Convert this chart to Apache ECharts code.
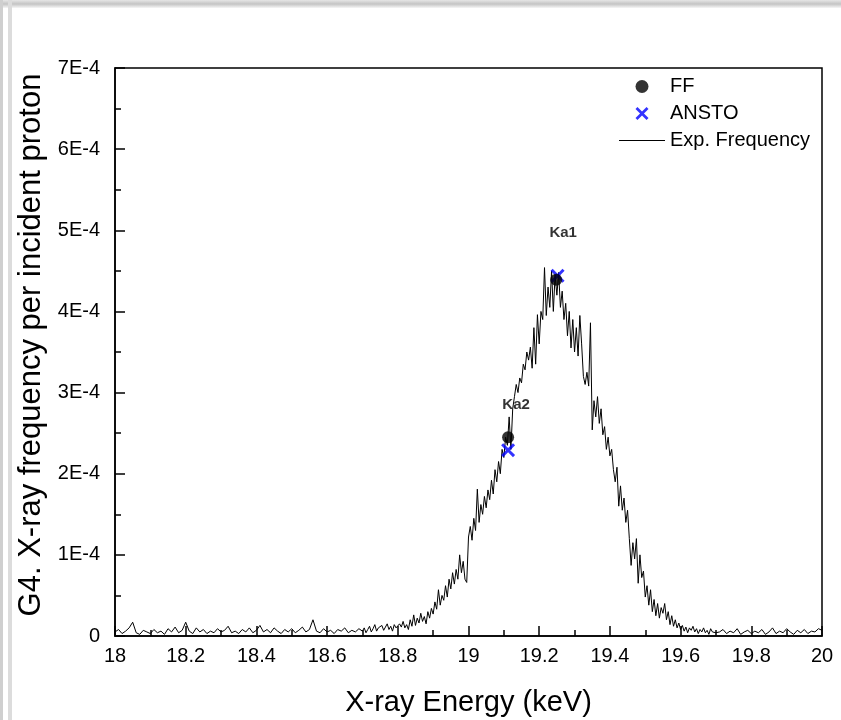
<!DOCTYPE html>
<html>
<head>
<meta charset="utf-8">
<script src="https://cdn.jsdelivr.net/npm/echarts@6/dist/echarts.min.js"></script>
<style>html,body{margin:0;padding:0;background:#fff}#c{width:841px;height:720px}</style>
</head>
<body>
<div id="c"></div>
<script>
// Units of y values: 1E-4 X-rays per incident proton
const xTicks = [18, 18.2, 18.4, 18.6, 18.8, 19, 19.2, 19.4, 19.6, 19.8, 20];
const yTicks = [0, 1, 2, 3, 4, 5, 6, 7];

// Experimental spectrum, sampled segments
const baseStart = 18.00, baseStep = 0.01;
const baseFreq = [
0.05,0.08,0.03,0.06,0.10,0.17,0.04,0.02,0.07,0.05,
0.03,0.08,0.04,0.06,0.02,0.09,0.05,0.11,0.04,0.07,
0.17,0.06,0.03,0.10,0.05,0.08,0.03,0.06,0.04,0.09,
0.05,0.07,0.12,0.04,0.06,0.03,0.08,0.05,0.10,0.04,
0.07,0.13,0.05,0.08,0.04,0.10,0.06,0.03,0.08,0.05,
0.09,0.04,0.07,0.11,0.05,0.08,0.20,0.06,0.04,0.09,
0.05,0.07,0.03,0.08,0.06,0.10,0.04,0.07,0.05,0.09
];
const peakStart = 18.70, peakStep = 0.005;
const peakFreq = [
0.06,0.10,0.04,0.08,0.12,0.05,0.09,0.14,0.06,0.10,
0.08,0.13,0.07,0.11,0.15,0.08,0.12,0.06,0.14,0.10,
0.09,0.15,0.11,0.18,0.10,0.14,0.08,0.20,0.12,0.26,
0.13,0.22,0.16,0.28,0.18,0.24,0.15,0.30,0.22,0.34,
0.27,0.42,0.33,0.57,0.38,0.50,0.44,0.62,0.48,0.70,
0.58,0.78,0.64,0.82,0.70,1.00,0.78,0.92,0.70,0.66,
1.22,1.35,1.18,1.45,1.30,1.81,1.40,1.62,1.50,1.72,
1.58,1.80,1.68,1.92,1.75,2.05,1.90,2.15,2.00,2.30,
2.20,2.45,2.35,2.70,2.30,2.80,2.95,3.10,3.00,3.18,
3.12,3.35,3.28,3.50,3.40,3.56,3.30,3.80,3.35,3.96,
3.60,4.00,3.90,4.54,3.95,4.30,4.05,4.50,4.00,4.45,
4.20,4.48,4.05,4.25,3.90,4.10,3.70,4.00,3.55,3.90,
3.50,3.80,3.45,3.95,3.60,3.20,3.10,3.25,3.08,3.86,
2.54,2.90,2.70,2.95,2.62,2.80,2.48,2.58,2.30,2.45,
2.22,2.30,2.05,1.90,2.08,1.60,1.85,1.55,1.70,1.40,
1.55,1.20,0.87,1.15,0.95,1.20,0.65,1.00,0.72,0.80,
0.48,0.62,0.38,0.57,0.30,0.45,0.25,0.40,0.22,0.35,
0.28,0.40,0.20,0.30,0.14,0.25,0.12,0.20,0.10,0.16,
0.08,0.13,0.06,0.11,0.04,0.10,0.07,0.12,0.05,0.09,
0.03,0.08,0.05,0.10,0.04,0.07,0.02,0.09,0.05,0.06,
0.04
];
const tailStart = 19.71, tailStep = 0.01;
const tailFreq = [
0.05,0.08,0.03,0.06,0.04,0.09,0.02,0.05,0.07,0.03,
0.06,0.04,0.08,0.02,0.05,0.10,0.03,0.06,0.04,0.09,
0.05,0.02,0.07,0.04,0.08,0.03,0.06,0.05,0.09,0.07
];

// Calculated lines
const lineNames = ['Ka2', 'Ka1'];
const ffEnergy = [19.112, 19.248];
const ffFreq = [2.45, 4.39];
const anstoEnergy = [19.112, 19.252];
const anstoFreq = [2.29, 4.44];

function seg(start, step, arr) {
  return arr.map((v, i) => [+(start + i * step).toFixed(3), v]);
}
const expData = [].concat(seg(baseStart, baseStep, baseFreq), seg(peakStart, peakStep, peakFreq), seg(tailStart, tailStep, tailFreq));

const FONT = '"Liberation Sans", Arial, sans-serif';
const crossPath = 'path://M0,3 L3,0 L10,7 L17,0 L20,3 L13,10 L20,17 L17,20 L10,13 L3,20 L0,17 L7,10 Z';
const linePath = 'path://M0,0 L46,0 L46,1 L0,1 Z';
const labelOffsets = [[8, -32], [7, -47]];

const chart = echarts.init(document.getElementById('c'), null, {renderer: 'canvas'});
chart.setOption({
  animation: false,
  backgroundColor: '#fff',
  graphic: [
    {type: 'rect', shape: {x: 0, y: 0, width: 841, height: 8}, style: {fill: new echarts.graphic.LinearGradient(0, 0, 0, 1, [{offset: 0, color: '#e6e6e6'}, {offset: 0.5, color: '#c4c4c4'}, {offset: 1, color: '#f6f6f6'}])}, silent: true},
    {type: 'rect', shape: {x: 0, y: 0, width: 3, height: 720}, style: {fill: '#cfcfcf'}, silent: true},
    {type: 'rect', shape: {x: 8, y: 0, width: 4, height: 720}, style: {fill: '#dcdcdc'}, silent: true}
  ],
  grid: {left: 115, right: 19, top: 68, bottom: 84, show: true, borderColor: '#000', borderWidth: 1.5, backgroundColor: 'transparent', outerBoundsMode: 'none', containLabel: false},
  legend: {
    orient: 'vertical', left: 614, top: 71, itemGap: 6, itemWidth: 46, itemHeight: 13,
    textStyle: {fontFamily: FONT, fontSize: 20, color: '#000', lineHeight: 21},
    data: [
      {name: 'FF', icon: 'circle', itemStyle: {color: '#000'}},
      {name: 'ANSTO', icon: crossPath, itemStyle: {color: '#0000ff'}},
      {name: 'Exp. Frequency', icon: linePath, itemStyle: {color: '#000'}}
    ]
  },
  xAxis: {
    type: 'value', min: 18, max: 20, interval: 0.2,
    name: 'X-ray Energy (keV)', nameLocation: 'middle', nameGap: 52,
    nameTextStyle: {fontFamily: FONT, fontSize: 29, color: '#000'},
    axisLine: {show: true, onZero: false, lineStyle: {color: '#000', width: 1.5}},
    axisTick: {show: true, inside: true, length: 10, lineStyle: {color: '#000', width: 1.5}},
    minorTick: {show: true, splitNumber: 2, length: 6, lineStyle: {color: '#000', width: 1.5}},
    splitLine: {show: false},
    axisLabel: {fontFamily: FONT, fontSize: 20, color: '#000', margin: 10, formatter: v => String(+v.toFixed(1))}
  },
  yAxis: {
    type: 'value', min: 0, max: 7, interval: 1,
    name: 'G4. X-ray frequency per incident proton', nameLocation: 'middle', nameGap: 68, nameRotate: 90,
    nameTextStyle: {fontFamily: FONT, fontSize: 31, color: '#000', padding: [0, 0, 0, 14]},
    axisLine: {show: true, onZero: false, lineStyle: {color: '#000', width: 1.5}},
    axisTick: {show: true, inside: true, length: 10, lineStyle: {color: '#000', width: 1.5}},
    minorTick: {show: true, splitNumber: 2, length: 6, lineStyle: {color: '#000', width: 1.5}},
    splitLine: {show: false},
    axisLabel: {fontFamily: FONT, fontSize: 20, color: '#000', margin: 15, formatter: v => v === 0 ? '0' : v + 'E-4'}
  },
  series: [
    {
      name: 'Exp. Frequency', type: 'line', data: expData, showSymbol: false, symbol: 'none',
      lineStyle: {color: '#000', width: 1}, itemStyle: {color: '#000'}, z: 2
    },
    {
      name: 'ANSTO', type: 'scatter', symbol: crossPath, symbolSize: 14,
      itemStyle: {color: '#0000ff'}, z: 3,
      data: anstoEnergy.map((e, i) => [e, anstoFreq[i]])
    },
    {
      name: 'FF', type: 'scatter', symbol: 'circle', symbolSize: 12,
      itemStyle: {color: '#000'}, z: 4,
      data: ffEnergy.map((e, i) => ({
        value: [e, ffFreq[i]],
        label: {show: true, formatter: lineNames[i], offset: labelOffsets[i], position: 'inside',
          fontFamily: FONT, fontSize: 15, fontWeight: 'bold', color: '#000'}
      }))
    }
  ]
});
</script>
</body>
</html>
